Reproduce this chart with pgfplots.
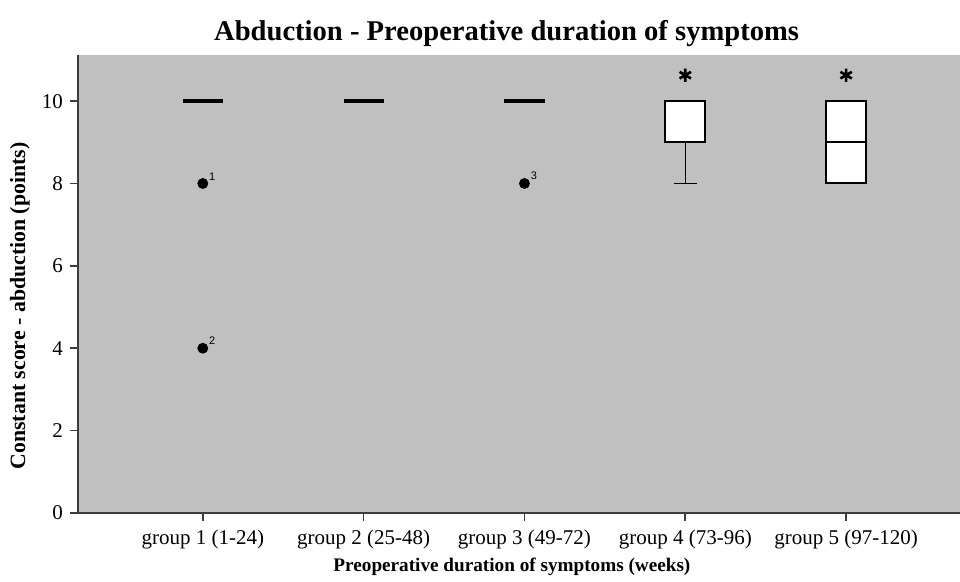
\documentclass[border=0pt]{standalone}
\usepackage{fontspec}
\setmainfont{Liberation Serif}
\newfontfamily\lsans{Liberation Sans}
\usepackage{pgfplots}
\pgfplotsset{compat=1.18}
\definecolor{bg}{RGB}{192,192,192}
\definecolor{axl}{RGB}{60,60,60}
\begin{document}
\begin{tikzpicture}
\useasboundingbox (0,0) rectangle (480pt,291pt);
\begin{axis}[
  at={(39pt,34.5pt)}, anchor=south west,
  scale only axis, width=441pt, height=229pt,
  xmin=0.224, xmax=5.708, ymin=0, ymax=11.12,
  axis background/.style={fill=bg},
  axis x line*=bottom, axis y line*=left,
  axis line style={-, axl, line width=1pt},
  tick style={axl, line width=0.8pt},
  tick align=outside, major tick length=4pt,
  xtick={1,2,3,4,5},
  xticklabels={group 1 (1-24), group 2 (25-48), group 3 (49-72), group 4 (73-96), group 5 (97-120)},
  ytick={0,2,4,6,8,10},
  /pgf/number format/assume math mode=true,
  ticklabel style={font=\fontsize{10.5}{12}\selectfont},
  xticklabel style={yshift=-1pt},
  title={Abduction - Preoperative duration of symptoms},
  every axis title/.style={at={(rel axis cs:0.486,1)}, anchor=base, yshift=7pt, inner sep=0pt, font=\fontsize{14.3}{16}\selectfont\bfseries},
  xlabel={Preoperative duration of symptoms (weeks)},
  every axis x label/.style={at={(rel axis cs:0.492,0)}, anchor=center, yshift=-27pt, inner sep=0pt, font=\fontsize{9.6}{12}\selectfont\bfseries},
  ylabel={Constant score - abduction (points)},
  every axis y label/.style={at={(rel axis cs:0,0.452)}, xshift=-29pt, rotate=90, anchor=center, inner sep=0pt, font=\fontsize{10.9}{12}\selectfont\bfseries},
  clip=false,
]
% groups 1-3: all values at 10 (median line)
\addplot[black, line width=1.8pt] coordinates {(0.875,10) (1.125,10)};
\addplot[black, line width=1.8pt] coordinates {(1.875,10) (2.125,10)};
\addplot[black, line width=1.8pt] coordinates {(2.875,10) (3.125,10)};
% group 4: whisker 8, Q1 9, median 10, Q3 10
\addplot[black, line width=0.6pt] coordinates {(4,9) (4,8)};
\addplot[black, line width=0.6pt] coordinates {(3.93,8) (4.07,8)};
\addplot[black, line width=1pt, fill=white, line join=miter] coordinates {(3.875,9) (4.125,9) (4.125,10) (3.875,10) (3.875,9)} -- cycle;
% group 5: Q1 8, median 9, Q3 10
\addplot[black, line width=1pt, fill=white, line join=miter] coordinates {(4.875,8) (5.125,8) (5.125,10) (4.875,10) (4.875,8)} -- cycle;
\addplot[black, line width=1pt] coordinates {(4.875,9) (5.125,9)};
% outliers
\addplot[only marks, mark=*, mark size=2.5pt, black,
  nodes near coords, point meta=explicit symbolic,
  every node near coord/.style={anchor=south west, font=\lsans\fontsize{5.5}{6}\selectfont, inner sep=0pt, xshift=3pt, yshift=1.5pt}]
  coordinates {(1,8) [1] (1,4) [2] (3,8) [3]};
% extremes
\addplot[only marks, mark=asterisk, mark size=3.3pt, line width=1.3pt, black]
  coordinates {(4,10.63) (5,10.63)};
\end{axis}
\end{tikzpicture}
\end{document}
